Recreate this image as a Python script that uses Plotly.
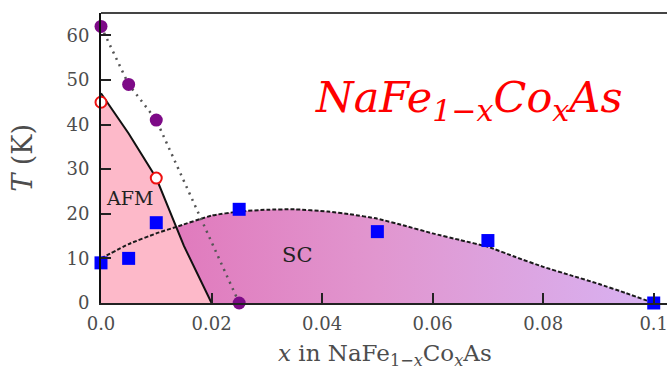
import plotly.graph_objects as go

# ---- data ----
purple_x = [0.0, 0.005, 0.01, 0.025]
purple_T = [62, 49, 41, 0]

red_x = [0.0, 0.01]
red_T = [45, 28]

blue_x = [0.0, 0.005, 0.01, 0.025, 0.05, 0.07, 0.1]
blue_T = [9, 10, 18, 21, 16, 14, 0]

afm_x = [0.0, 0.005, 0.01, 0.015, 0.02]
afm_T = [47, 38, 28, 12.8, 0]

sc_x = [0.0, 0.005, 0.01, 0.0135, 0.02, 0.025, 0.03, 0.035, 0.041, 0.045, 0.05,
        0.055, 0.06, 0.065, 0.07, 0.075, 0.08, 0.085, 0.09, 0.095, 0.1]
sc_T = [10, 13.2, 15.6, 17, 19.6, 20.5, 20.9, 21, 20.5, 19.9, 18.9,
        17.3, 15.6, 14.1, 12.6, 10.3, 8.1, 6.2, 4.3, 2.2, 0]

x_ticks = [0, 0.02, 0.04, 0.06, 0.08, 0.1]
x_ticktext = ["0.0", "0.02", "0.04", "0.06", "0.08", "0.1"]
y_ticks = [0, 10, 20, 30, 40, 50, 60]

FONT = "DejaVu Serif"
GRAY = "#4d4d4d"

fig = go.Figure()

# SC region fill with horizontal gradient
fig.add_trace(go.Scatter(
    x=sc_x, y=sc_T, mode="lines", line=dict(width=0, shape="spline", smoothing=0.4),
    fill="tozeroy",
    fillgradient=dict(type="horizontal",
                      colorscale=[[0, "#e070b6"], [0.5, "#e196cf"], [1, "#d8b2f2"]]),
    hoverinfo="skip", showlegend=False))

# AFM region fill
fig.add_trace(go.Scatter(
    x=afm_x, y=afm_T, mode="lines", line=dict(width=0),
    fill="tozeroy", fillcolor="#fdb9c9", hoverinfo="skip", showlegend=False))

# SC dashed boundary
fig.add_trace(go.Scatter(
    x=sc_x, y=sc_T, mode="lines",
    line=dict(color="#1a1a1a", width=2, dash="4px,2px", shape="spline", smoothing=0.4),
    hoverinfo="skip", showlegend=False))

# AFM solid boundary
fig.add_trace(go.Scatter(
    x=afm_x, y=afm_T, mode="lines",
    line=dict(color="#111111", width=2),
    hoverinfo="skip", showlegend=False))

# dotted line through purple points
fig.add_trace(go.Scatter(
    x=purple_x, y=purple_T, mode="lines",
    line=dict(color="#555555", width=2.5, dash="2px,5px"),
    hoverinfo="skip", showlegend=False))

# markers
fig.add_trace(go.Scatter(
    x=purple_x, y=purple_T, mode="markers", cliponaxis=False,
    marker=dict(symbol="circle", size=13, color="#7d0a87", line=dict(width=0)),
    showlegend=False))
fig.add_trace(go.Scatter(
    x=red_x, y=red_T, mode="markers", cliponaxis=False,
    marker=dict(symbol="circle", size=11, color="white", line=dict(width=2, color="#ee1111")),
    showlegend=False))
fig.add_trace(go.Scatter(
    x=blue_x, y=blue_T, mode="markers", cliponaxis=False,
    marker=dict(symbol="square", size=13, color="#0000ff", line=dict(width=0)),
    showlegend=False))

fig.update_layout(
    width=667, height=378,
    margin=dict(l=101, r=0, t=13, b=75),
    plot_bgcolor="white", paper_bgcolor="white",
    xaxis=dict(range=[0, 0.1024], tickvals=x_ticks, ticktext=x_ticktext,
               ticks="inside", ticklen=10, tickwidth=1.5, tickcolor="#222",
               showline=True, linecolor="#222", linewidth=2, showgrid=False,
               zeroline=False, tickfont=dict(family=FONT, size=18, color=GRAY),
               ticklabeloverflow="allow", ticklabelstandoff=3,
               layer="above traces"),
    yaxis=dict(range=[0, 65], tickvals=y_ticks,
               ticks="inside", ticklen=10, tickwidth=1.5, tickcolor="#222",
               showline=True, linecolor="#111", linewidth=2, showgrid=False,
               zeroline=False, tickfont=dict(family=FONT, size=18, color=GRAY),
               ticklabelstandoff=6, layer="above traces"),
    shapes=[dict(type="line", xref="paper", yref="paper", x0=0, x1=1, y0=1, y1=1,
                 line=dict(color="#444", width=2))],
    annotations=[
        dict(text="AFM", x=0.00524, y=23.6, xref="x", yref="y", showarrow=False,
             font=dict(family=FONT, size=19, color="#222")),
        dict(text="SC", x=0.0354, y=10.7, xref="x", yref="y", showarrow=False,
             font=dict(family=FONT, size=21, color="#222")),
        dict(text="<i>NaFe<sub>1−x</sub>Co<sub>x</sub>As</i>", x=0.0664, y=45.5,
             xref="x", yref="y", showarrow=False,
             font=dict(family=FONT, size=43, color="#ff0000")),
        dict(text="<i>x</i> in NaFe<sub>1−<i>x</i></sub>Co<sub><i>x</i></sub>As",
             x=0.502, y=-0.18, xref="paper", yref="paper", yanchor="middle",
             showarrow=False,
             font=dict(family=FONT, size=23, color=GRAY)),
        dict(text="<i>T</i> (K)", x=-0.14, y=0.5, xref="paper", yref="paper",
             xanchor="center", yanchor="middle",
             showarrow=False, textangle=-90,
             font=dict(family=FONT, size=27, color=GRAY)),
    ],
)

fig.write_html("out.html")
